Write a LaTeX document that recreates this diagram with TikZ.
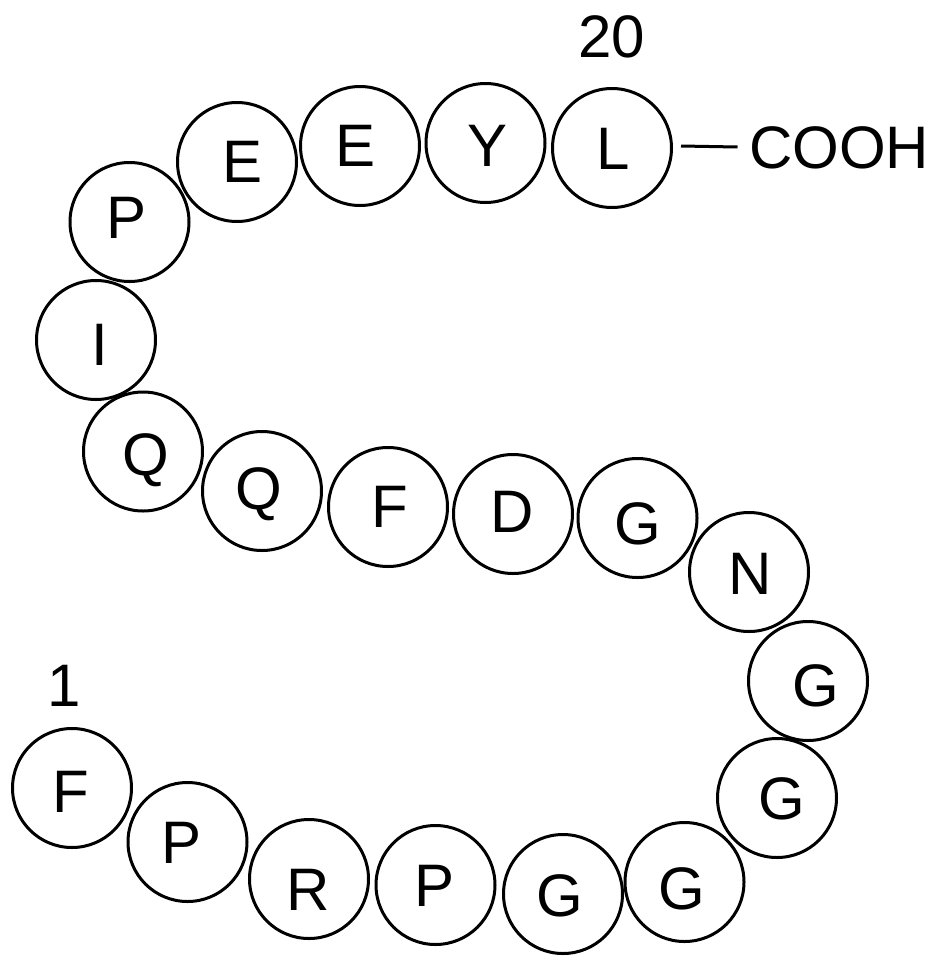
\documentclass[tikz,border=0pt]{standalone}
\usepackage{fontspec}
\setmainfont{Liberation Sans}

\tikzset{every picture/.style={line width=3pt}}
\tikzset{
  residue/.style={circle, draw, minimum size=119pt, inner sep=0pt},
  aalabel/.style={inner sep=0pt, font=\fontsize{60}{72}\selectfont, text height=43pt, text depth=0pt}
}

\begin{document}
\begin{tikzpicture}%
[x=1pt,y=1pt,yscale=-1,xscale=1]
\useasboundingbox (0,0) rectangle (933,967);

%Shape: Circle [res 1 F]
\node[residue] (c1) at (72,788) {};
%Shape: Circle [res 2 P]
\node[residue] (c2) at (187.5,842) {};
%Shape: Circle [res 3 R]
\node[residue] (c3) at (309,879) {};
%Shape: Circle [res 4 P]
\node[residue] (c4) at (435.5,885) {};
%Shape: Circle [res 5 G]
\node[residue] (c5) at (563,894) {};
%Shape: Circle [res 6 G]
\node[residue] (c6) at (684.5,882) {};
%Shape: Circle [res 7 G]
\node[residue] (c7) at (777,798) {};
%Shape: Circle [res 8 G]
\node[residue] (c8) at (808,681) {};
%Shape: Circle [res 9 N]
\node[residue] (c9) at (749,572) {};
%Shape: Circle [res 10 G]
\node[residue] (c10) at (637.5,518) {};
%Shape: Circle [res 11 D]
\node[residue] (c11) at (513,514) {};
%Shape: Circle [res 12 F]
\node[residue] (c12) at (388,507) {};
%Shape: Circle [res 13 Q]
\node[residue] (c13) at (262,491) {};
%Shape: Circle [res 14 Q]
\node[residue] (c14) at (143,451.5) {};
%Shape: Circle [res 15 I]
\node[residue] (c15) at (96,340) {};
%Shape: Circle [res 16 P]
\node[residue] (c16) at (129.5,222) {};
%Shape: Circle [res 17 E]
\node[residue] (c17) at (237,162) {};
%Shape: Circle [res 18 E]
\node[residue] (c18) at (360,146) {};
%Shape: Circle [res 19 Y]
\node[residue] (c19) at (485.5,143) {};
%Shape: Circle [res 20 L]
\node[residue] (c20) at (612,148) {};

% Text Node
\node[aalabel] (t1) at (71,791) {F};
% Text Node
\node[aalabel] (t2) at (182,842) {P};
% Text Node
\node[aalabel] (t3) at (308,889) {R};
% Text Node
\node[aalabel] (t4) at (434.5,885) {P};
% Text Node
\node[aalabel] (t5) at (560,894.5) {G};
% Text Node
\node[aalabel] (t6) at (682,888) {G};
% Text Node
\node[aalabel] (t7) at (782,798) {G};
% Text Node
\node[aalabel] (t8) at (816,685) {G};
% Text Node
\node[aalabel] (t9) at (750,573) {N};
% Text Node
\node[aalabel] (t10) at (638,523) {G};
% Text Node
\node[aalabel] (t11) at (512,511) {D};
% Text Node
\node[aalabel] (t12) at (390,506) {F};
% Text Node
\node[aalabel] (t13) at (259,488) {Q};
% Text Node
\node[aalabel] (t14) at (146,454) {Q};
% Text Node
\node[aalabel] (t15) at (100,344) {I};
% Text Node
\node[aalabel] (t16) at (127,217) {P};
% Text Node
\node[aalabel] (t17) at (243,161) {E};
% Text Node
\node[aalabel] (t18) at (355.5,145) {E};
% Text Node
\node[aalabel] (t19) at (487.5,145) {Y};
% Text Node
\node[aalabel] (t20) at (613,148) {L};

% Text Node
\node[aalabel] (n1) at (64,685) {1};
% Text Node
\node[aalabel] (n20) at (612,35.5) {20};
% Text Node
\node[aalabel] (cooh) at (839,147) {COOH};

%Straight Lines [C-terminus]
\draw ([xshift=8pt,yshift=-2pt]c20.east) -- ([xshift=-10pt]cooh.west);

\end{tikzpicture}
\end{document}
